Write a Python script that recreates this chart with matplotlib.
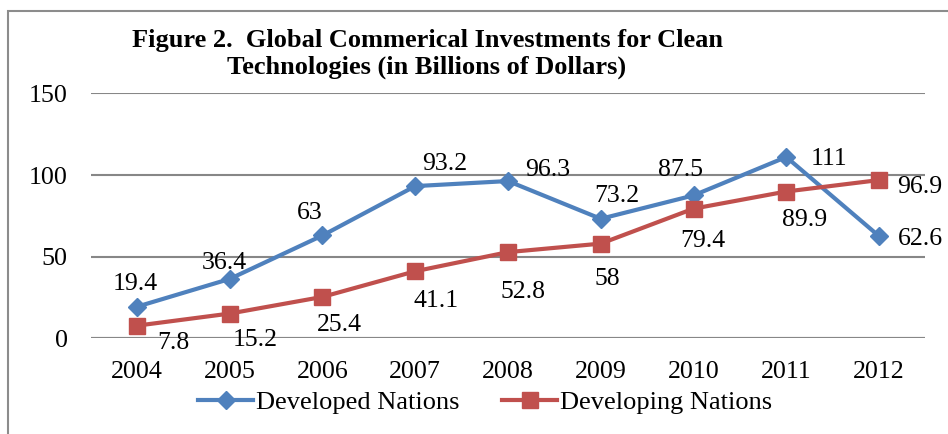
import matplotlib.pyplot as plt
from matplotlib.patches import Rectangle
from matplotlib.lines import Line2D

plt.rcParams['font.family'] = ['Liberation Serif', 'DejaVu Serif']

years = ['2004', '2005', '2006', '2007', '2008', '2009', '2010', '2011', '2012']
developed = [19.4, 36.4, 63, 93.2, 96.3, 73.2, 87.5, 111, 62.6]
developing = [7.8, 15.2, 25.4, 41.1, 52.8, 58, 79.4, 89.9, 96.9]

# label offsets in pixels (dx, dy), like Excel's auto placement
dev_off = [(-2, 25), (-5, 18), (-13, 25), (29, 25), (40, 14), (16, 25), (-13, 28), (43, 1), (41, 0)]
ing_off = [(36, -15), (25, -24), (17, -26), (21, -27), (15, -37), (7, -33), (9, -30), (18, -26), (41, -4)]

blue = '#4F81BD'
red = '#C0504D'
grid = '#878787'

fig = plt.figure(figsize=(9.48, 4.34), dpi=100)
ax = fig.add_axes([90.6 / 948, 95.6 / 434, 834.8 / 948, 245.1 / 434])

x = list(range(len(years)))
ax.plot(x, developed, color=blue, lw=3, marker='D', ms=9, label='Developed Nations', zorder=3)
ax.plot(x, developing, color=red, lw=3, marker='s', ms=12, label='Developing Nations', zorder=3)

for i, v in enumerate(developed):
    ax.annotate(f'{v:g}', (i, v), xytext=dev_off[i], textcoords='offset pixels',
                ha='center', va='center_baseline', fontsize=18.5)
for i, v in enumerate(developing):
    ax.annotate(f'{v:g}', (i, v), xytext=ing_off[i], textcoords='offset pixels',
                ha='center', va='center_baseline', fontsize=18.5)

ax.set_xlim(-0.5, 8.5)
ax.set_ylim(0, 150)
ax.set_yticks([0, 50, 100, 150])
ax.set_xticks(x)
ax.set_xticklabels(years)
ax.tick_params(axis='both', length=0, labelsize=18.7)
ax.tick_params(axis='y', pad=16.5)
ax.tick_params(axis='x', pad=16)
ax.yaxis.grid(True, color=grid, lw=1.5)
ax.set_axisbelow(True)
for s in ax.spines.values():
    s.set_visible(False)
ax.axhline(0, color=grid, lw=1.5, zorder=0)

fig.text(427 / 948, 1 - 47 / 434, 'Figure 2.  Global Commerical Investments for Clean',
         ha='center', va='baseline', fontsize=19, fontweight='bold')
fig.text(427 / 948, 1 - 74 / 434, 'Technologies (in Billions of Dollars)',
         ha='center', va='baseline', fontsize=19, fontweight='bold')

handles = [Line2D([], [], color=blue, lw=3, marker='D', ms=9),
           Line2D([], [], color=red, lw=3, marker='s', ms=12)]
fig.legend(handles, ['Developed Nations', 'Developing Nations'], loc='center',
           bbox_to_anchor=(485 / 948, 1 - 402 / 434), ncol=2, frameon=False,
           fontsize=19, handlelength=2.1, handletextpad=0.1, columnspacing=1.6,
           borderpad=0, borderaxespad=0)

fig.patches.append(Rectangle((8 / 948, -0.1), 1.2, 1.1 - 11 / 434, transform=fig.transFigure,
                             fill=False, edgecolor='#8c8c8c', lw=1.5))

fig.savefig('out.png', dpi=100)
